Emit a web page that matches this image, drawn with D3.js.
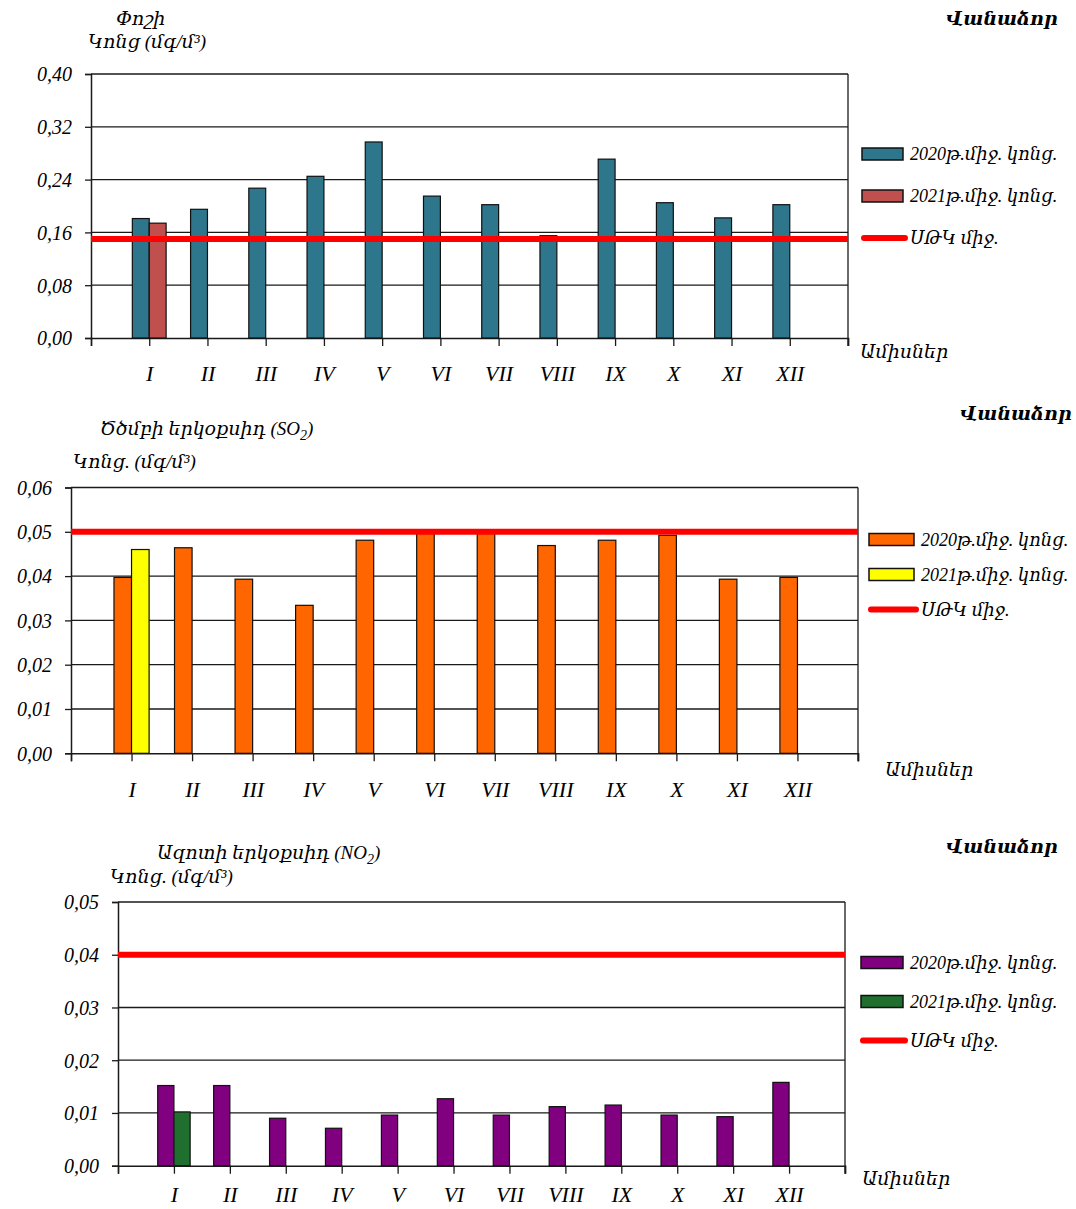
<!DOCTYPE html>
<html>
<head>
<meta charset="utf-8">
<script src="https://cdn.jsdelivr.net/npm/d3@7"></script>
<style>
  html, body { margin: 0; padding: 0; background: #fff; }
  svg text { font-family: "Liberation Serif", "DejaVu Serif", serif; font-style: italic; fill: #000; }
</style>
</head>
<body>
<svg id="chart" width="1076" height="1209"></svg>
<script>
// Monthly average concentrations, Vanadzor
const months = ["I", "II", "III", "IV", "V", "VI", "VII", "VIII", "IX", "X", "XI", "XII"];

// Dust (mg/m3)
const dust2020 = [0.181, 0.195, 0.227, 0.245, 0.297, 0.215, 0.202, 0.155, 0.271, 0.205, 0.182, 0.202];
const dust2021 = [0.174];
const dustLimit = 0.15;
const dustTicks = [0, 0.08, 0.16, 0.24, 0.32, 0.40];

// Sulfur dioxide SO2 (mg/m3)
const so2_2020 = [0.0397, 0.0464, 0.0393, 0.0334, 0.0481, 0.0497, 0.0497, 0.0469, 0.0481, 0.0492, 0.0393, 0.0397];
const so2_2021 = [0.046];
const so2Limit = 0.05;
const so2Ticks = [0, 0.01, 0.02, 0.03, 0.04, 0.05, 0.06];

// Nitrogen dioxide NO2 (mg/m3)
const no2_2020 = [0.0152, 0.0152, 0.0090, 0.0071, 0.0096, 0.0127, 0.0096, 0.0112, 0.0115, 0.0096, 0.0093, 0.0158];
const no2_2021 = [0.0102];
const no2Limit = 0.04;
const no2Ticks = [0, 0.01, 0.02, 0.03, 0.04, 0.05];

// Text labels
const cityLabel = "Վանաձոր";
const monthsAxisLabel = "Ամիսներ";
const legendLabels = ["2020թ.միջ. կոնց.", "2021թ.միջ. կոնց.", "ՍԹԿ միջ."];

const svg = d3.select("#chart");

function drawPanel(p) {
  const g = svg.append("g");

  // Month centres sit on the category boundaries, with an empty slot at each end
  const slots = ["start", ...months, "end"];
  const x = d3.scalePoint().domain(slots).range([p.left, p.right]);
  const step = x.step();
  const barW = step * 0.29;
  const y = d3.scaleLinear().domain([0, p.ticks[p.ticks.length - 1]]).range([p.bottom, p.top]);
  const fmt = v => d3.format(".2f")(v).replace(".", ",");

  // Horizontal gridlines
  g.selectAll("line.grid").data(p.ticks.slice(1)).join("line")
    .attr("x1", p.left).attr("x2", p.right)
    .attr("y1", d => y(d)).attr("y2", d => y(d))
    .attr("stroke", "#1a1a1a").attr("stroke-width", 1.3);

  // Right border of plot area
  g.append("line").attr("x1", p.right).attr("x2", p.right)
    .attr("y1", p.top).attr("y2", p.bottom + 8)
    .attr("stroke", "#1a1a1a").attr("stroke-width", 1.3);

  // Y axis
  const yAxis = d3.axisLeft(y).tickValues(p.ticks).tickSize(6).tickFormat(fmt);
  const ya = g.append("g").attr("transform", `translate(${p.left},0)`).call(yAxis);
  ya.select(".domain").attr("stroke", "#1a1a1a").attr("stroke-width", 1.5);
  ya.selectAll(".tick line").attr("stroke", "#1a1a1a").attr("stroke-width", 1.3);
  ya.selectAll(".tick text")
    .attr("x", -19).attr("dy", "0.34em")
    .style("font-size", "20px").style("font-family", "'Liberation Serif', serif").style("font-style", "italic")
    .attr("fill", "#000");

  // X axis: ticks on every category boundary, labels on the month ticks
  const xAxis = d3.axisBottom(x).tickSize(8).tickFormat(d => months.includes(d) ? d : "");
  const xa = g.append("g").attr("transform", `translate(0,${p.bottom})`).call(xAxis);
  xa.select(".domain").attr("stroke", "#1a1a1a").attr("stroke-width", 1.5);
  xa.selectAll(".tick line").attr("stroke", "#1a1a1a").attr("stroke-width", 1.3);
  xa.selectAll(".tick text")
    .attr("y", p.monthDy).attr("dy", "0.35em")
    .style("font-size", "22px").style("font-family", "'Liberation Serif', serif").style("font-style", "italic")
    .attr("fill", "#000");

  // Bars for the previous year (left of the tick) and current year (right of the tick)
  g.selectAll("rect.a").data(p.s1).join("rect")
    .attr("x", (d, i) => x(months[i]) - barW)
    .attr("y", d => y(d))
    .attr("width", barW)
    .attr("height", d => y(0) - y(d))
    .attr("fill", p.c1).attr("stroke", "#111").attr("stroke-width", 1.2);
  g.selectAll("rect.b").data(p.s2).join("rect")
    .attr("x", (d, i) => x(months[i]))
    .attr("y", d => y(d))
    .attr("width", barW)
    .attr("height", d => y(0) - y(d))
    .attr("fill", p.c2).attr("stroke", "#111").attr("stroke-width", 1.2);

  // Limit line
  g.append("line").attr("x1", p.left).attr("x2", p.right)
    .attr("y1", y(p.limit)).attr("y2", y(p.limit))
    .attr("stroke", "#ff0000").attr("stroke-width", 6);

  // Titles
  const t1 = g.append("text").attr("x", p.titleX).attr("y", p.titleY).style("font-size", "19px");
  t1.append("tspan").text(p.title);
  if (p.titleSub) {
    t1.append("tspan").text(p.titleSubMain);
    t1.append("tspan").attr("dy", 5).style("font-size", "14px").text("2");
    t1.append("tspan").attr("dy", -5).text(")");
  }
  g.append("text").attr("x", p.unitX).attr("y", p.unitY).style("font-size", "19px").text(p.unit);

  g.append("text").attr("x", p.cityX).attr("y", p.cityY)
    .style("font-size", "19px").style("font-weight", "bold").text(cityLabel);
  g.append("text").attr("x", p.monthsX).attr("y", p.monthsY)
    .style("font-size", "19px").text(monthsAxisLabel);

  // Legend
  const lg = g.append("g").attr("transform", `translate(${p.legX},${p.legY})`);
  [p.c1, p.c2].forEach((c, i) => {
    lg.append("rect").attr("x", 0).attr("y", i * p.legGap - 6).attr("width", p.swW).attr("height", 12)
      .attr("fill", c).attr("stroke", "#111").attr("stroke-width", 1.5);
  });
  lg.append("line").attr("x1", 2).attr("x2", p.swW + 2)
    .attr("y1", 2 * p.legGap).attr("y2", 2 * p.legGap)
    .attr("stroke", "#ff0000").attr("stroke-width", 6).attr("stroke-linecap", "round");
  legendLabels.forEach((t, i) => {
    lg.append("text").attr("x", p.swW + 7).attr("y", i * p.legGap + 6)
      .style("font-size", "18px").text(t);
  });
}

drawPanel({
  s1: dust2020, s2: dust2021, limit: dustLimit, ticks: dustTicks,
  c1: "#2e768b", c2: "#c0504d",
  left: 91, right: 848, top: 74, bottom: 338, monthDy: 35,
  title: "Փոշի", titleX: 116, titleY: 25,
  unit: "Կոնց (մգ/մ³)", unitX: 88, unitY: 48,
  cityX: 946, cityY: 25, monthsX: 860, monthsY: 358,
  legX: 862, legY: 154, legGap: 42, swW: 41
});

drawPanel({
  s1: so2_2020, s2: so2_2021, limit: so2Limit, ticks: so2Ticks,
  c1: "#ff6600", c2: "#ffff00",
  left: 71, right: 858, top: 487.5, bottom: 753.3, monthDy: 36,
  title: "Ծծմբի երկօքսիդ ", titleSub: true, titleSubMain: "(SO", titleX: 100, titleY: 435,
  unit: "Կոնց. (մգ/մ³)", unitX: 73, unitY: 468,
  cityX: 960, cityY: 420, monthsX: 885, monthsY: 776,
  legX: 869, legY: 539.5, legGap: 35, swW: 45
});

drawPanel({
  s1: no2_2020, s2: no2_2021, limit: no2Limit, ticks: no2Ticks,
  c1: "#800080", c2: "#1f6f2f",
  left: 118, right: 845, top: 902, bottom: 1165.7, monthDy: 29,
  title: "Ազոտի երկօքսիդ ", titleSub: true, titleSubMain: "(NO", titleX: 157, titleY: 859,
  unit: "Կոնց. (մգ/մ³)", unitX: 110, unitY: 883,
  cityX: 946, cityY: 853, monthsX: 862, monthsY: 1185,
  legX: 861, legY: 962.5, legGap: 39, swW: 42
});
</script>
</body>
</html>
